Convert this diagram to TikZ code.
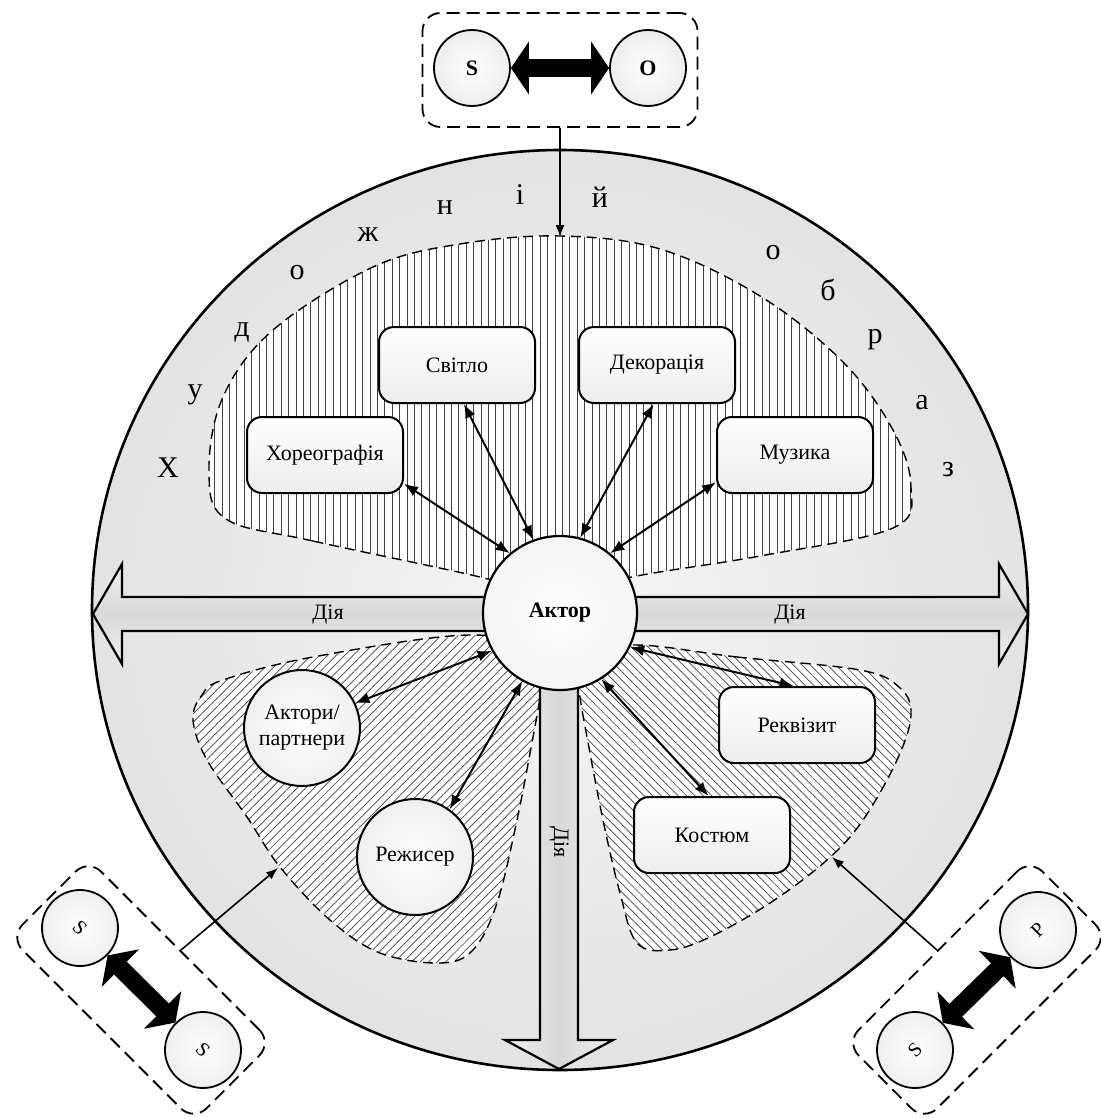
\documentclass[tikz,border=0pt]{standalone}
\usepackage{fontspec}
\setmainfont{Liberation Serif}
\usepackage{tikz}
\usetikzlibrary{arrows.meta, positioning, shapes.geometric, patterns.meta, calc}

\begin{document}
\begin{tikzpicture}[
  x=0.5pt, y=-0.5pt,
  font=\fontsize{11}{13}\selectfont,
  elem/.style={draw, line width=1pt, rounded corners=7.5pt, minimum width=78pt, minimum height=38pt, top color=white, bottom color=gray!14, align=center},
  part/.style={circle, draw, line width=1pt, minimum size=58pt, inner sep=1pt, inner color=white, outer color=gray!12, align=center},
  rel/.style={{Latex[length=7pt,width=5.5pt]}-{Latex[length=7pt,width=5.5pt]}, line width=1pt},
  subj/.style={circle, draw, line width=0.9pt, minimum size=38pt, inner color=white, outer color=gray!14},
  pair/.style={draw, line width=0.9pt, dash pattern=on 6.5pt off 3.5pt, rounded corners=9pt},
  bond/.style={{Triangle[length=9pt,width=26pt]}-{Triangle[length=9pt,width=26pt]}, line width=9pt},
  link/.style={-{Latex[length=6pt,width=4.5pt]}, line width=0.8pt},
  zone/.style={line width=0.7pt, dash pattern=on 5pt off 3pt, preaction={fill=white}, pattern color=gray!50!black},
  flow/.style={draw, line width=1.1pt},
  arcl/.style={font=\fontsize{15}{17}\selectfont, inner sep=0pt},
]
\useasboundingbox (0,0) rectangle (1100,1119);

% big circle
\draw[line width=1.3pt, inner color=gray!7, outer color=gray!22] (560,610) ellipse [x radius=468, y radius=460];

% hatched zones
\draw[zone, pattern={Lines[angle=90,distance=3.7pt,line width=0.35pt]}]
  plot[smooth cycle, tension=0.6] coordinates {(480,577) (313,541) (226,519) (209,472) (223,397) (273,330) (373,267) (460,244) (560,236) (660,249) (760,296) (843,362) (893,430) (911,487) (893,528) (760,556) (627,578) (560,600)};
\draw[zone, pattern={Lines[angle=45,distance=3pt,line width=0.35pt]}]
  plot[smooth cycle, tension=0.6] coordinates {(470,635) (545,655) (540,697) (533,737) (517,820) (497,903) (473,950) (440,963) (380,953) (330,920) (280,867) (247,817) (207,760) (193,720) (202,695) (223,680) (313,657)};
\draw[zone, pattern={Lines[angle=-45,distance=3pt,line width=0.35pt]}]
  plot[smooth cycle, tension=0.6] coordinates {(637,645) (737,657) (860,670) (900,688) (911,715) (897,760) (863,820) (827,860) (770,903) (710,937) (670,950) (637,943) (620,893) (603,820) (587,737) (580,697) (575,655)};

% action arrows
\draw[flow, top color=gray!12, bottom color=gray!12, middle color=gray!30]
  (93,614) -- (122,564) -- (122,597) -- (999,597) -- (999,564) -- (1028,614) -- (999,664) -- (999,631) -- (122,631) -- (122,664) -- cycle;
\draw[flow, left color=gray!12, right color=gray!12, middle color=gray!30]
  (540,660) -- (540,1040) -- (505,1040) -- (559,1069) -- (613,1040) -- (578,1040) -- (578,660) -- cycle;
\node (dl) at (328,615) {Дія};
\node (dr) at (790,615) {Дія};
\node[rotate=-90] (dd) at (559,842) {Дія};

% actor
\node[circle, draw, line width=1.1pt, minimum size=77pt, inner color=white, outer color=gray!8, font=\fontsize{11}{13}\selectfont\bfseries] (akt) at (560,613) {Актор};

% elements
\node[elem] (chor) at (325,455) {Хореографія};
\node[elem] (svit) at (457,365) {Світло};
\node[elem] (dek) at (657,365) {Декорація};
\node[elem] (muz) at (795,455) {Музика};
\node[elem] (rekv) at (797,725) {Реквізит};
\node[elem] (kost) at (712,835) {Костюм};
\node[part] (akp) at (302,728) {Актори/\\партнери};
\node[part] (rezh) at (415,857) {Режисер};

\draw[rel] (akt.130) -- (chor.-20);
\draw[rel] (akt.110) -- (svit.-80);
\draw[rel] (akt.75) -- (dek.-95);
\draw[rel] (akt.50) -- (muz.199);
\draw[rel] (akt.209) -- (akp.25);
\draw[rel] (akt.241) -- (rezh.54);
\draw[rel] (akt.-26) -- (rekv.95);
\draw[rel] (akt.-58) -- (kost.95);

% letters along the rim
\foreach \ch/\px/\py [count=\i] in {Х/168/468, у/195/395, д/242/333, о/297/273, ж/368/235, н/445/208, і/520/195, й/600/197, о/773/253, б/828/290, р/875/340, а/922/403, з/948/470}
  \node[arcl] (ltr\i) at (\px,\py) {\ch};

% subject-object pairs
\node[pair, minimum width=137.5pt, minimum height=57pt] (ptop) at (560,70) {};
\node[subj, font=\fontsize{11}{13}\selectfont\bfseries] (st) at (472,68) {S};
\node[subj, font=\fontsize{11}{13}\selectfont\bfseries] (ot) at (648,68) {O};
\draw[bond] (st) -- (ot);
\coordinate (ztop) at (560,237);
\draw[link] (ptop) -- (ztop);

\node[pair, minimum width=130pt, minimum height=55.5pt, rotate=-45] (pleft) at (141,990) {};
\node[subj, font=\fontsize{10}{12}\selectfont, rotate=-45] (sl1) at (80,928) {S};
\node[subj, font=\fontsize{10}{12}\selectfont, rotate=-45] (sl2) at (203,1050) {S};
\draw[bond] (sl1) -- (sl2);
\coordinate (zleft) at (278,868);
\draw[link] (pleft.north) -- (zleft);

\node[pair, minimum width=130pt, minimum height=55.5pt, rotate=45] (pright) at (977,990) {};
\node[subj, font=\fontsize{10}{12}\selectfont, rotate=45] (sr) at (915,1050) {S};
\node[subj, font=\fontsize{10}{12}\selectfont, rotate=45] (pr) at (1038,930) {P};
\draw[bond] (sr) -- (pr);
\coordinate (zright) at (832,857);
\draw[link] (pright.north) -- (zright);
\end{tikzpicture}
\end{document}
